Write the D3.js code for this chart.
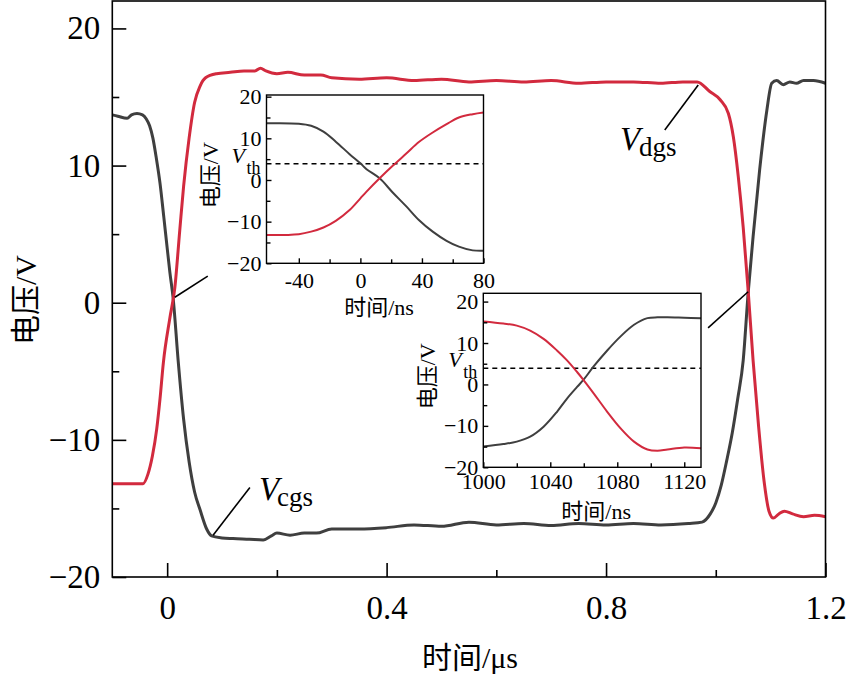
<!DOCTYPE html>
<html>
<head>
<meta charset="utf-8">
<script src="https://cdn.jsdelivr.net/npm/d3@7"></script>
<style>
  body { margin: 0; background: #fff; }
  svg { display: block; }
</style>
</head>
<body>
<svg id="chart" width="847" height="674"></svg>
<script>
// main plot, time in µs
const timeCgs = [-0.1, -0.09, -0.073, -0.065, -0.055, -0.045, -0.038, -0.032, -0.026, -0.02, -0.013, -0.006, 0, 0.005, 0.011, 0.02, 0.03, 0.04, 0.05, 0.06, 0.072, 0.081, 0.1, 0.12, 0.15, 0.175, 0.19, 0.2, 0.224, 0.25, 0.272, 0.3, 0.35, 0.4, 0.45, 0.5, 0.55, 0.6, 0.65, 0.7, 0.75, 0.8, 0.85, 0.9, 0.95, 0.975, 0.99, 1.0, 1.01, 1.02, 1.03, 1.04, 1.05, 1.059, 1.068, 1.08, 1.093, 1.102, 1.111, 1.123, 1.135, 1.147, 1.16, 1.178, 1.2]
const valCgs = [13.7, 13.6, 13.45, 13.7, 13.8, 13.7, 13.4, 12.9, 12.0, 10.6, 8.7, 6.2, 4.0, 2.2, 0.3, -4.2, -8.5, -11.6, -13.8, -15.1, -16.5, -17.0, -17.15, -17.2, -17.25, -17.3, -17.0, -16.8, -16.95, -16.8, -16.8, -16.5, -16.5, -16.4, -16.2, -16.3, -16.0, -16.2, -16.1, -16.25, -16.1, -16.2, -16.1, -16.2, -16.1, -16.0, -15.4, -14.6, -13.3, -11.5, -9.5, -7.0, -4.2, 0.7, 4.8, 9.7, 14.0, 16.0, 16.2, 15.9, 16.1, 16.0, 16.2, 16.2, 16.0]

const timeDgs = [-0.1, -0.044, -0.035, -0.027, -0.019, -0.013, -0.007, 0.005, 0.014, 0.023, 0.03, 0.04, 0.05, 0.06, 0.07, 0.09, 0.115, 0.14, 0.16, 0.17, 0.18, 0.2, 0.22, 0.25, 0.28, 0.3, 0.35, 0.4, 0.45, 0.5, 0.55, 0.6, 0.65, 0.7, 0.75, 0.8, 0.85, 0.9, 0.94, 0.966, 0.989, 1.008, 1.023, 1.032, 1.041, 1.05, 1.059, 1.068, 1.078, 1.088, 1.097, 1.105, 1.115, 1.125, 1.14, 1.16, 1.18, 1.2]
const valDgs = [-13.2, -13.2, -12.5, -11.2, -9.2, -7.0, -4.4, -1.1, 1.1, 5.3, 8.5, 12.0, 14.6, 15.8, 16.4, 16.7, 16.8, 16.9, 16.9, 17.1, 16.9, 16.7, 16.8, 16.6, 16.6, 16.4, 16.3, 16.4, 16.2, 16.3, 16.1, 16.2, 16.1, 16.2, 16.0, 16.1, 16.1, 16.0, 16.1, 16.1, 15.4, 14.8, 13.8, 12.1, 9.2, 5.5, 0.9, -4.2, -9.0, -13.0, -15.2, -15.7, -15.4, -15.2, -15.4, -15.6, -15.5, -15.6]

// inset 1 (turn-on), time in ns
const inset1Time = [-61, -40, -32, -24, -16, -7, 0, 4, 12.5, 21, 30, 38, 47, 56, 64, 73, 80]
const inset1Cgs = [13.6, 13.5, 13.0, 11.6, 9.2, 6.2, 4.0, 2.6, 0.4, -3.0, -6.4, -9.6, -12.4, -14.6, -16.0, -16.9, -17.0]
const inset1Dgs = [-13.2, -13.0, -12.4, -11.4, -9.8, -7.2, -4.4, -2.8, 0.4, 3.4, 6.4, 9.1, 11.4, 13.4, 15.0, 15.8, 16.2]

// inset 2 (turn-off), time in ns
const inset2Time = [1000, 1012, 1020, 1028, 1036, 1044, 1050, 1056, 1060, 1066, 1074, 1082, 1090, 1098, 1104, 1110, 1120, 1130]
const inset2Cgs = [-15.0, -14.4, -13.8, -12.6, -10.2, -6.6, -3.4, -0.6, 1.2, 4.4, 8.2, 11.6, 14.4, 16.0, 16.2, 16.2, 16.1, 16.0]
const inset2Dgs = [15.2, 14.7, 14.2, 13.0, 11.0, 8.2, 5.8, 3.0, 1.0, -2.2, -6.6, -10.6, -13.8, -15.7, -16.0, -15.7, -15.2, -15.4]

const vth = 3.9

const mainXMajor = [0, 0.4, 0.8, 1.2]
const mainXMinor = [0.2, 0.6, 1.0]
const yMajor = [-20, -10, 0, 10, 20]
const yMinor = [-15, -5, 5, 15]
const inset1XMajor = [-40, 0, 40, 80]
const inset1XMinor = [-20, 20, 60]
const inset2XMajor = [1000, 1040, 1080, 1120]
const inset2XMinor = [1020, 1060, 1100]

const RED = '#d22a3e', GREY = '#3f3f3f'
const SERIF = '"Liberation Serif", "Times New Roman", "Noto Sans CJK SC", serif'

const svg = d3.select('#chart')

function axes(g, x, y, o) {
    const [x0, x1] = x.range(), [y0, y1] = y.range()
    const fmtY = d3.format('d')
    g.append('g').attr('transform', `translate(0,${y0})`)
        .call(d3.axisBottom(x).tickValues(o.xMajor).tickSize(-o.major).tickPadding(o.xPad).tickFormat(d => String(d)))
    g.append('g').attr('transform', `translate(0,${y0})`)
        .call(d3.axisBottom(x).tickValues(o.xMinor).tickSize(-o.minor).tickFormat(''))
    g.append('g').attr('transform', `translate(${x0},0)`)
        .call(d3.axisLeft(y).tickValues(yMajor).tickSize(-o.major).tickPadding(o.yPad).tickFormat(fmtY))
    g.append('g').attr('transform', `translate(${x0},0)`)
        .call(d3.axisLeft(y).tickValues(yMinor).tickSize(-o.minor).tickFormat(''))
    g.selectAll('.domain').remove()
    g.selectAll('.tick line').attr('stroke', '#000').attr('stroke-width', o.sw)
    g.selectAll('.tick text').attr('fill', '#000')
    g.selectAll('g').attr('font-family', SERIF).attr('font-size', o.fs)
    g.append('rect')
        .attr('x', x0).attr('y', y1).attr('width', x1 - x0).attr('height', y0 - y1)
        .attr('fill', 'none').attr('stroke', '#000').attr('stroke-width', o.sw)
}

function curve(g, x, y, t, v, color, w, shape) {
    g.append('path')
        .datum(d3.zip(t, v))
        .attr('fill', 'none')
        .attr('stroke', color)
        .attr('stroke-width', w)
        .attr('stroke-linejoin', 'round')
        .attr('d', d3.line().x(d => x(d[0])).y(d => y(d[1])).curve(shape || d3.curveMonotoneX))
}

function label(g, xx, yy, text, fs, opts = {}) {
    return g.append('text')
        .attr('x', xx).attr('y', yy)
        .attr('font-family', SERIF)
        .attr('font-size', fs)
        .attr('font-style', opts.italic ? 'italic' : null)
        .attr('text-anchor', opts.anchor || 'start')
        .attr('transform', opts.rotate ? `rotate(-90,${xx},${yy})` : null)
        .attr('dominant-baseline', opts.central ? 'central' : null)
        .text(text)
}

// ---- main plot
const x = d3.scaleLinear().domain([-0.1, 1.2]).range([112.3, 825.5])
const y = d3.scaleLinear().domain([-20, 22]).range([577, 1])
const main = svg.append('g')

curve(main, x, y, timeCgs, valCgs, GREY, 3)
curve(main, x, y, timeDgs, valDgs, RED, 3)
axes(main, x, y, {xMajor: mainXMajor, xMinor: mainXMinor, major: 14, minor: 7, xPad: 19, yPad: 12, fs: 33, sw: 1.6})

label(main, 470, 657, '时间/μs', 30, {anchor: 'middle', central: true})
label(main, 25, 300, '电压/V', 30, {anchor: 'middle', central: true, rotate: true})

// pointer lines, anchored in data units
const pointers = [
    [[0.014, 0.4], [0.074, 1.94]],
    [[0.0837, -16.95], [0.1508, -13.47]],
    [[0.968, 15.87], [0.907, 12.6]],
    [[1.059, 0.8], [0.986, -1.83]]
]
main.selectAll('line.ptr').data(pointers).join('line')
    .attr('class', 'ptr')
    .attr('x1', d => x(d[0][0])).attr('y1', d => y(d[0][1]))
    .attr('x2', d => x(d[1][0])).attr('y2', d => y(d[1][1]))
    .attr('stroke', '#000').attr('stroke-width', 1.6)

label(main, 259, 500, 'V', 33, {italic: true})
label(main, 277, 506, 'cgs', 27)
label(main, 620, 150, 'V', 33, {italic: true})
label(main, 639, 156, 'dgs', 27)

// ---- insets
function inset(x0, x1, y0, y1, domX, yTop, t, cgs, dgs, xMajor, xMinor, xPad) {
    const ix = d3.scaleLinear().domain(domX).range([x0, x1])
    const iy = d3.scaleLinear().domain([-20, yTop]).range([y1, y0])
    const g = svg.append('g')
    g.append('rect').attr('x', x0).attr('y', y0).attr('width', x1 - x0).attr('height', y1 - y0).attr('fill', '#fff')
    g.append('line')
        .attr('x1', x0).attr('x2', x1).attr('y1', iy(vth)).attr('y2', iy(vth))
        .attr('stroke', '#000').attr('stroke-width', 1.5).attr('stroke-dasharray', '5,4')
    const smooth = d3.curveCatmullRom.alpha(0.5)
    curve(g, ix, iy, t, cgs, GREY, 2, smooth)
    curve(g, ix, iy, t, dgs, RED, 2, smooth)
    axes(g, ix, iy, {xMajor, xMinor, major: 5, minor: 4, xPad, yPad: 5, fs: 22, sw: 1.4})
    label(g, (x0 + x1) / 2 + 4, y1 + 44, '时间/ns', 22, {anchor: 'middle', central: true})
    label(g, x0 - 56, (y0 + y1) / 2 - 4, '电压/V', 22, {anchor: 'middle', central: true, rotate: true})
    label(g, x0 - 35, iy(vth) - 1, 'V', 22, {italic: true})
    label(g, x0 - 20, iy(vth) + 10, 'th', 18)
}

inset(266.5, 483.5, 95, 263.3, [-61, 80], 20.4, inset1Time, inset1Cgs, inset1Dgs, inset1XMajor, inset1XMinor, 9)
inset(483.3, 701, 293.3, 467.3, [1000, 1130], 22, inset2Time, inset2Cgs, inset2Dgs, inset2XMajor, inset2XMinor, 6)
</script>
</body>
</html>
